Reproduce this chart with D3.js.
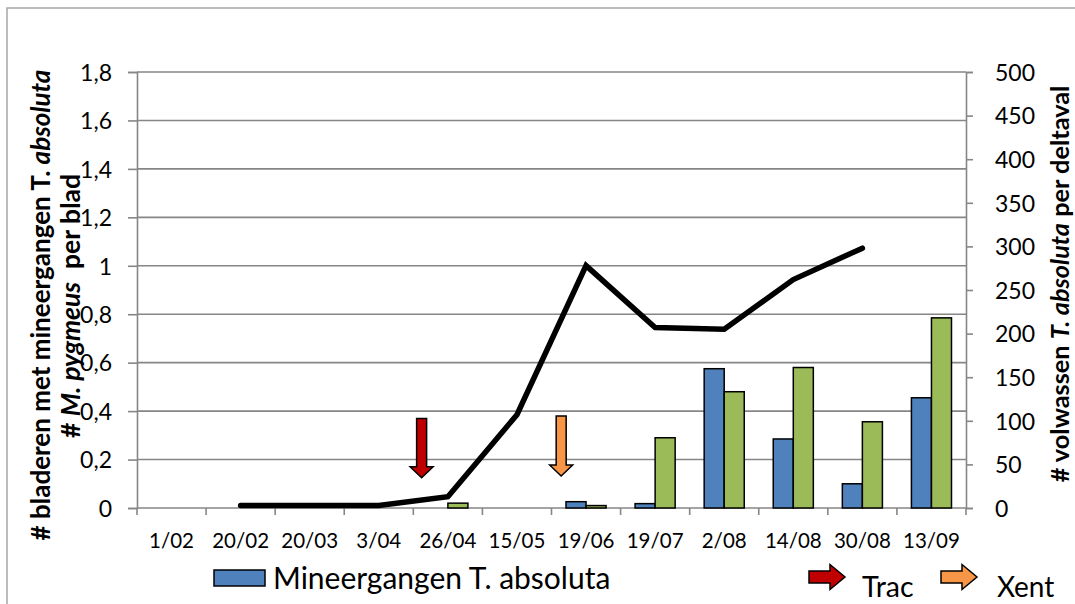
<!DOCTYPE html>
<html>
<head>
<meta charset="utf-8">
<script src="https://cdn.jsdelivr.net/npm/d3@7"></script>
<style>
  html, body { margin: 0; padding: 0; background: #fff; }
  svg { display: block; font-family: Lato, "Open Sans", sans-serif; }
</style>
</head>
<body>
<svg id="chart" width="1075" height="604"></svg>
<script>
// Sampling dates
const categories = ["1/02", "20/02", "20/03", "3/04", "26/04", "15/05", "19/06", "19/07", "2/08", "14/08", "30/08", "13/09"];
// Leaves with T. absoluta mines (left axis)
const mineergangen = [0, 0, 0, 0, 0, 0, 0.026, 0.018, 0.575, 0.285, 0.10, 0.455];
// M. pygmeus per leaf (left axis)
const pygmeus = [0, 0, 0, 0, 0.02, 0, 0.01, 0.29, 0.48, 0.58, 0.356, 0.785];
// Adult T. absoluta per delta trap (right axis)
const volwassen = [null, 3, 3, 3, 13, 107, 278, 207, 205, 262, 298, null];

const leftTicks = [0, 0.2, 0.4, 0.6, 0.8, 1.0, 1.2, 1.4, 1.6, 1.8];
const rightTicks = [0, 50, 100, 150, 200, 250, 300, 350, 400, 450, 500];

// Release events: date index and arrow span on the left axis
const releases = [
  { label: "Trac", at: 4, offset: 0.12, top: 0.37, tip: 0.125, color: "#C00000" },
  { label: "Xent", at: 6, offset: 0.14, top: 0.38, tip: 0.132, color: "#F79646" }
];

const BLUE = "#4F81BD", GREEN = "#9BBB59", GRID = "#868686";

const svg = d3.select("#chart");
const m = { left: 137, right: 966, top: 72, bottom: 508 };

const x = d3.scaleBand().domain(categories).range([m.left, m.right]).paddingInner(0).paddingOuter(0);
const yL = d3.scaleLinear().domain([0, 1.8]).range([m.bottom, m.top]);
const yR = d3.scaleLinear().domain([0, 500]).range([m.bottom, m.top]);
const bw = x.bandwidth();
const barW = bw * 0.29;

// outer chart frame
svg.append("rect")
  .attr("x", 7).attr("y", 8).attr("width", 1200).attr("height", 800)
  .attr("fill", "none").attr("stroke", "#a6a6a6").attr("stroke-width", 1.5);

// horizontal gridlines
svg.append("g").selectAll("line").data(leftTicks.slice(1)).join("line")
  .attr("x1", m.left).attr("x2", m.right)
  .attr("y1", d => yL(d)).attr("y2", d => yL(d))
  .attr("stroke", GRID).attr("stroke-width", 1.6);

// left axis
const fmt = d3.formatLocale({ decimal: ",", thousands: ".", grouping: [3], currency: ["", ""] }).format("~f");
const gL = svg.append("g").attr("transform", `translate(${m.left},0)`)
  .call(d3.axisLeft(yL).tickValues(leftTicks).tickFormat(fmt).tickSize(9).tickPadding(16));
gL.select(".domain").attr("stroke", GRID).attr("stroke-width", 1.6);
gL.selectAll(".tick line").attr("stroke", GRID).attr("stroke-width", 1.6);
gL.selectAll(".tick text").attr("font-family", "Lato").attr("font-size", 23).attr("fill", "#000").attr("dy", "0.36em");

// right axis
const gR = svg.append("g").attr("transform", `translate(${m.right},0)`)
  .call(d3.axisRight(yR).tickValues(rightTicks).tickSize(7).tickPadding(22));
gR.select(".domain").attr("stroke", GRID).attr("stroke-width", 1.6);
gR.selectAll(".tick line").attr("stroke", GRID).attr("stroke-width", 1.6);
gR.selectAll(".tick text").attr("font-family", "Lato").attr("font-size", 23).attr("fill", "#000").attr("dy", "0.36em");

// bottom axis: ticks at category boundaries, labels at centres
const gB = svg.append("g").attr("transform", `translate(0,${m.bottom})`);
gB.append("line").attr("x1", m.left).attr("x2", m.right).attr("stroke", GRID).attr("stroke-width", 1.6);
const bounds = categories.map(c => x(c)).concat([m.right]);
gB.selectAll("line.tk").data(bounds).join("line").attr("class", "tk")
  .attr("x1", d => d).attr("x2", d => d).attr("y1", 0).attr("y2", 7)
  .attr("stroke", GRID).attr("stroke-width", 1.6);
gB.selectAll("text").data(categories).join("text")
  .attr("x", d => x(d) + bw / 2).attr("y", 40)
  .attr("text-anchor", "middle").attr("font-size", 20.5).attr("fill", "#000")
  .text(d => d);

// bars
const barsG = svg.append("g");
categories.forEach((c, i) => {
  const cx = x(c) + bw / 2;
  [[mineergangen[i], BLUE, cx - barW], [pygmeus[i], GREEN, cx]].forEach(([v, col, bx]) => {
    if (!v) return;
    barsG.append("rect")
      .attr("x", bx).attr("width", barW)
      .attr("y", yL(v)).attr("height", yL(0) - yL(v))
      .attr("fill", col).attr("stroke", "#000").attr("stroke-width", 1.5);
  });
});

// adults line
const lineData = categories.map((c, i) => ({ c, v: volwassen[i] })).filter(d => d.v != null);
svg.append("path").datum(lineData)
  .attr("d", d3.line().x(d => x(d.c) + bw / 2).y(d => yR(d.v)))
  .attr("fill", "none").attr("stroke", "#000").attr("stroke-width", 5.5)
  .attr("stroke-linecap", "round").attr("stroke-linejoin", "miter");

// release arrows pointing down
function downArrow(g, cx, yTop, yTip, col) {
  const sw = 5, hw = 11.5, hh = 11;
  const pts = [[cx - sw, yTop], [cx + sw, yTop], [cx + sw, yTip - hh], [cx + hw, yTip - hh],
               [cx, yTip], [cx - hw, yTip - hh], [cx - sw, yTip - hh]];
  g.append("polygon").attr("points", pts.map(p => p.join(",")).join(" "))
    .attr("fill", col).attr("stroke", "#000").attr("stroke-width", 1.5);
}
function rightArrow(g, x0, cy, col) {
  const len = 36, sh = 6, hh = 12.5, hl = 15;
  const pts = [[x0, cy - sh], [x0 + len - hl, cy - sh], [x0 + len - hl, cy - hh], [x0 + len, cy],
               [x0 + len - hl, cy + hh], [x0 + len - hl, cy + sh], [x0, cy + sh]];
  g.append("polygon").attr("points", pts.map(p => p.join(",")).join(" "))
    .attr("fill", col).attr("stroke", "#000").attr("stroke-width", 1.5);
}
const arrG = svg.append("g");
releases.forEach(r => {
  const cx = x(categories[r.at]) + r.offset * bw;
  downArrow(arrG, cx, yL(r.top), yL(r.tip), r.color);
});

// legend
const leg = svg.append("g");
leg.append("rect").attr("x", 214).attr("y", 570).attr("width", 51).attr("height", 16)
  .attr("fill", BLUE).attr("stroke", "#000").attr("stroke-width", 1.5);
leg.append("text").attr("x", 273).attr("y", 589).attr("font-size", 30).attr("fill", "#000")
  .text("Mineergangen T. absoluta");
rightArrow(leg, 809, 577, releases[0].color);
leg.append("text").attr("x", 862).attr("y", 597).attr("font-size", 28.5).attr("fill", "#000").text("Trac");
rightArrow(leg, 941, 577, releases[1].color);
leg.append("text").attr("x", 997).attr("y", 597).attr("font-size", 28).attr("fill", "#000").text("Xent");

// axis titles
function title(cx, cy, parts, size) {
  const t = svg.append("text")
    .attr("transform", `translate(${cx},${cy}) rotate(-90)`)
    .attr("text-anchor", "middle").attr("font-weight", "bold")
    .attr("font-size", size).attr("fill", "#000");
  parts.forEach(([s, it]) => t.append("tspan").attr("font-style", it ? "italic" : "normal").text(s));
}
title(50, 305, [["# bladeren met mineergangen T. ", false], ["absoluta", true]], 26);
title(80, 306, [["# ", false], ["M. pygmeus", true], ["\u00a0 per blad", false]], 26.5);
title(1069, 284, [["# volwassen ", false], ["T. absoluta", true], [" per deltaval", false]], 25.3);
</script>
</body>
</html>
